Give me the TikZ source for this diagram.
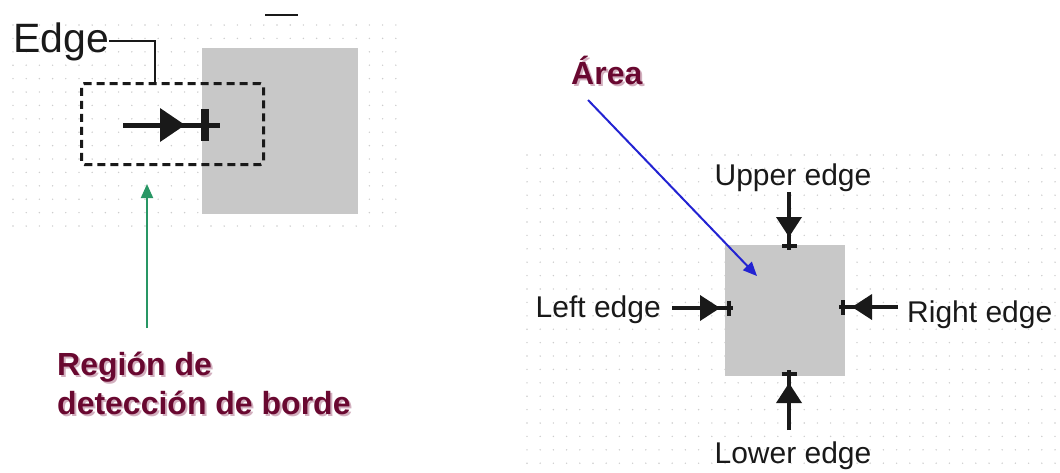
\documentclass[tikz,border=0pt]{standalone}
\usepackage{fontspec}
\setmainfont{Liberation Sans}
\usetikzlibrary{arrows.meta}
\definecolor{maroonc}{RGB}{105,8,48}
\definecolor{shadowc}{RGB}{210,175,190}
\definecolor{greenc}{RGB}{40,150,100}
\definecolor{bluec}{RGB}{35,35,210}
\definecolor{sqgray}{RGB}{200,200,200}
\definecolor{dotc}{RGB}{205,205,205}
\definecolor{inkc}{RGB}{25,25,25}
\tikzset{
  lbl/.style={inner sep=0pt, text=inkc, font=\fontsize{30}{36}\selectfont},
  biglbl/.style={inner sep=0pt, text=inkc, font=\fontsize{41}{48}\selectfont},
  redlbl/.style={inner sep=0pt, text=maroonc, font=\bfseries\fontsize{32}{38}\selectfont},
  redshadow/.style={inner sep=0pt, text=shadowc, font=\bfseries\fontsize{32}{38}\selectfont},
  graysq/.style={fill=sqgray, draw=none, inner sep=0pt, anchor=north west},
  dashbox/.style={draw=inkc, line width=3pt, dash pattern=on 8pt off 5pt, rounded corners=3pt, inner sep=0pt, anchor=north west},
  conn/.style={draw=inkc, line width=2pt},
  shaft/.style={draw=inkc, line width=3.5pt},
  bigshaft/.style={draw=inkc, line width=5pt},
  smalltip/.pic={
    \fill[inkc] (-20,-13) -- (0,0) -- (-20,13) -- cycle;
    \draw[inkc, line width=3.5pt] (0,0) -- (13,0);
    \draw[inkc, line width=3.5pt] (9,-7.5) -- (9,7.5);
  },
  bigtip/.pic={
    \fill[inkc] (-25,-17) -- (0,0) -- (-25,17) -- cycle;
    \draw[inkc, line width=5pt] (0,0) -- (35,0);
    \draw[inkc, line width=8pt] (20,-16) -- (20,16);
  },
  pointer/.style={line width=2pt, -{Triangle[length=14pt,width=12pt]}}
}
\begin{document}
\begin{tikzpicture}[x=1pt,y=-1pt]
\useasboundingbox (0,0) rectangle (1060,472);
\clip (0,0) rectangle (1060,472);
% dotted grids
\foreach \i in {0,...,29} \foreach \j in {0,...,15}
  \fill[dotc] (13+13.2*\i, 25+13.4*\j) circle (0.8);
\foreach \i in {0,...,40} \foreach \j in {0,...,23}
  \fill[dotc] (527+13.2*\i, 155+13.4*\j) circle (0.8);

% ---------- left panel ----------
\node[graysq, minimum width=156pt, minimum height=166pt] (sqA) at (202,48) {};
\draw[inkc, line width=2pt] (265,15) -- (298,15);
\node[dashbox, minimum width=182pt, minimum height=81pt] (det) at (80,82) {};
\node[biglbl, anchor=base west] (edgelbl) at (13,52) {Edge};
\coordinate (ej) at (155,82);
\draw[conn] (edgelbl.east) -| (ej);
\coordinate (a1s) at (123,125);
\coordinate (a1t) at (185,125);
\draw[bigshaft] (a1s) -- (a1t);
\pic at (a1t) {bigtip};

\node[redshadow, anchor=base west] (regS1) at (59,377) {Región de};
\node[redshadow, anchor=base west] (regS2) at (59,416) {detección de borde};
\node[redlbl, anchor=base west] (reg1) at (57,375) {Región de};
\node[redlbl, anchor=base west] (reg2) at (57,414) {detección de borde};
\coordinate (gtail) at (147,328);
\coordinate (ghead) at (147,184);
\draw[pointer, greenc] (gtail) -- (ghead);

% ---------- right panel ----------
\node[graysq, minimum width=120pt, minimum height=131pt] (sqB) at (725,245) {};
\node[lbl, anchor=base] (up) at (793,185) {Upper edge};
\node[lbl, anchor=base] (low) at (793,463) {Lower edge};
\node[lbl, anchor=base east] (left) at (661,317) {Left edge};
\node[lbl, anchor=base west] (right) at (907,322) {Right edge};

\coordinate (ls) at (672,308); \coordinate (lt) at (720,308);
\draw[shaft] (ls) -- (lt); \pic at (lt) {smalltip};
\coordinate (rs) at (898,307); \coordinate (rt) at (852,307);
\draw[shaft] (rs) -- (rt); \pic[rotate=180] at (rt) {smalltip};
\coordinate (us) at (789,192); \coordinate (ut) at (789,237);
\draw[shaft] (us) -- (ut); \pic[rotate=-90] at (ut) {smalltip};
\coordinate (ds) at (789,430); \coordinate (dt) at (789,383);
\draw[shaft] (ds) -- (dt); \pic[rotate=90] at (dt) {smalltip};

\node[redshadow, anchor=base west] (areaS) at (573,86) {Área};
\node[redlbl, anchor=base west] (area) at (571,84) {Área};
\coordinate (bt) at (757,276);
\draw[pointer, bluec] (588,100) -- (bt);
\end{tikzpicture}
\end{document}
